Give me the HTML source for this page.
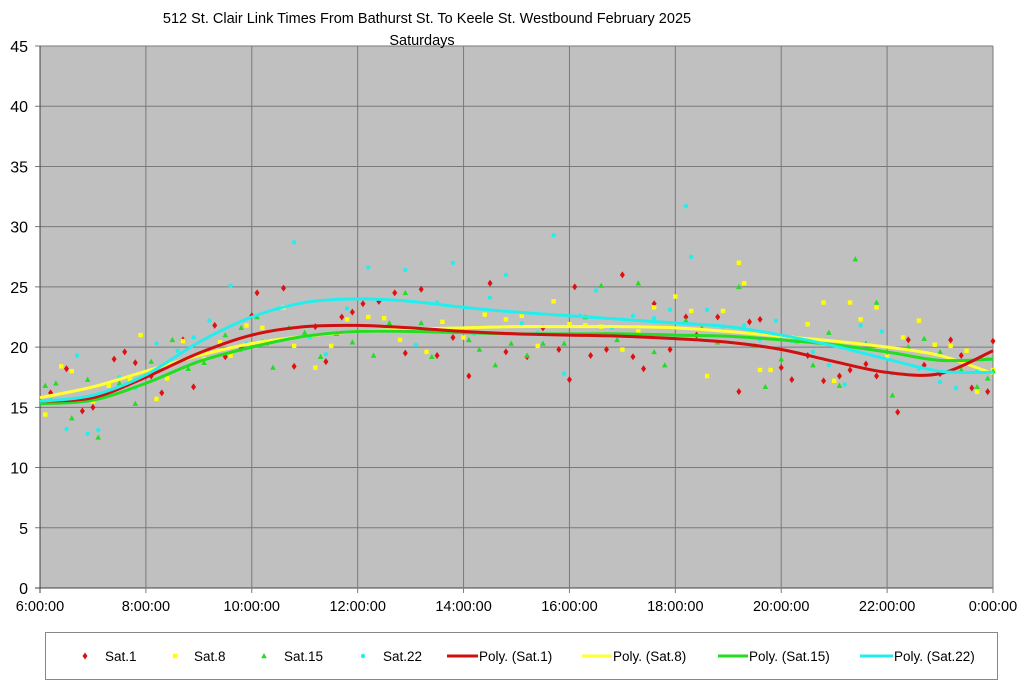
<!DOCTYPE html>
<html><head><meta charset="utf-8"><style>
body{margin:0;background:#fff;width:1024px;height:687px;overflow:hidden;font-family:"Liberation Sans",sans-serif}
svg text{font-family:"Liberation Sans",sans-serif}
</style></head><body>
<svg id="c" width="1024" height="687"></svg>
<script>
const xTicks=[6,8,10,12,14,16,18,20,22,24];
const xTickLabels=["6:00:00","8:00:00","10:00:00","12:00:00","14:00:00","16:00:00","18:00:00","20:00:00","22:00:00","0:00:00"];
const yTicks=[0,5,10,15,20,25,30,35,40,45];
const trendHours=[6,7,8,9,10,11,12,13,14,15,16,17,18,19,20,21,22,23,24];
const trendSat1=[15.5,15.8,17.5,19.5,21,21.7,21.8,21.6,21.3,21.1,21,20.9,20.7,20.4,19.8,18.8,17.9,17.8,19.7];
const trendSat8=[15.8,16.7,18,19.3,20.3,20.9,21.3,21.5,21.6,21.7,21.7,21.7,21.6,21.3,20.9,20.5,20,19.3,17.8];
const trendSat15=[15.3,15.6,17,18.8,20,20.9,21.3,21.3,21.2,21.1,21.1,21.1,21,20.9,20.6,20.2,19.6,18.9,19];
const trendSat22=[15.5,16,17.7,20.4,22.5,23.7,24,23.8,23.3,22.9,22.6,22.3,22,21.7,21,20.1,19,18,17.9];
const sat1=[[6.2,16.2],[6.5,18.2],[6.8,14.7],[7,15],[7.4,19],[7.6,19.6],[7.8,18.7],[8.1,17.6],[8.3,16.2],[8.7,20.6],[8.9,16.7],[9.3,21.8],[9.5,19.2],[9.8,19.9],[10,22.6],[10.1,24.5],[10.3,20.4],[10.6,24.9],[10.8,18.4],[11.2,21.7],[11.4,18.8],[11.7,22.5],[11.9,22.9],[12.1,23.6],[12.4,23.8],[12.7,24.5],[12.9,19.5],[13.2,24.8],[13.5,19.3],[13.8,20.8],[14.1,17.6],[14.5,25.3],[14.8,19.6],[15.2,19.2],[15.5,21.6],[15.8,19.8],[16,17.3],[16.1,25],[16.4,19.3],[16.7,19.8],[17,26],[17.2,19.2],[17.4,18.2],[17.6,23.6],[17.9,19.8],[18.2,22.5],[18.4,21],[18.8,22.5],[19.2,16.3],[19.4,22.1],[19.6,22.3],[20,18.3],[20.2,17.3],[20.5,19.3],[20.8,17.2],[21.1,17.6],[21.3,18.1],[21.6,18.6],[21.8,17.6],[22.2,14.6],[22.4,20.6],[22.7,18.5],[23,17.8],[23.2,20.6],[23.4,19.3],[23.6,16.6],[23.9,16.3],[24,20.5]];
const sat8=[[6.1,14.4],[6.4,18.4],[6.6,18],[7,15.5],[7.3,16.8],[7.7,17.3],[7.9,21],[8.2,15.7],[8.4,17.4],[8.7,20.5],[9.1,19],[9.4,20.4],[9.6,19.3],[9.9,21.8],[10.2,21.6],[10.6,23.3],[10.8,20.1],[11.2,18.3],[11.5,20.1],[11.8,22.3],[12.2,22.5],[12.5,22.4],[12.8,20.6],[13.3,19.6],[13.6,22.1],[14,20.8],[14.4,22.7],[14.8,22.3],[15.1,22.6],[15.4,20.1],[15.7,23.8],[16,21.9],[16.3,21.8],[16.6,21.7],[17,19.8],[17.3,21.3],[17.6,23.3],[18,24.2],[18.3,23],[18.6,17.6],[18.9,23],[19.2,27],[19.3,25.3],[19.6,18.1],[19.8,18.1],[20.2,20.8],[20.5,21.9],[20.8,23.7],[21,17.2],[21.3,23.7],[21.5,22.3],[21.8,23.3],[22,19.2],[22.3,20.8],[22.6,22.2],[22.9,20.2],[23.2,20.1],[23.5,19.7],[23.7,16.3],[24,18.1]];
const sat15=[[6.1,16.8],[6.3,17],[6.6,14.1],[6.9,17.3],[7.1,12.5],[7.5,17],[7.8,15.3],[8.1,18.8],[8.5,20.6],[8.8,18.2],[9.1,18.7],[9.5,21],[9.8,21.6],[10.1,22.5],[10.4,18.3],[10.7,21.6],[11,21.2],[11.3,19.2],[11.6,21.1],[11.9,20.4],[12.3,19.3],[12.6,22],[12.9,24.5],[13.2,22],[13.4,19.2],[13.8,21.3],[14.1,20.6],[14.3,19.8],[14.6,18.5],[14.9,20.3],[15.2,19.3],[15.5,20.3],[15.9,20.3],[16.3,22.5],[16.6,25.1],[16.9,20.6],[17.3,25.3],[17.6,19.6],[17.8,18.5],[18.2,22.2],[18.5,21.6],[18.8,20.4],[19.2,25],[19.5,20.1],[19.7,16.7],[20,19],[20.3,20.5],[20.6,18.5],[20.9,21.2],[21.1,16.8],[21.4,27.3],[21.6,20.3],[21.8,23.7],[22.1,16],[22.4,20],[22.7,20.7],[23,19.6],[23.4,18.1],[23.7,16.7],[23.9,17.4],[24,18]];
const sat22=[[6.2,15.6],[6.5,13.2],[6.7,19.3],[6.9,12.8],[7.1,13.1],[7.5,17.5],[7.8,16.6],[8.2,20.3],[8.6,19.7],[8.9,20.8],[9.2,22.2],[9.6,25.1],[9.9,20.3],[10.2,20.5],[10.5,23.2],[10.8,28.7],[11.1,20.8],[11.4,19.4],[11.8,23.2],[12.2,26.6],[12.5,21.4],[12.9,26.4],[13.1,20.2],[13.5,23.7],[13.8,27],[14.2,21.1],[14.5,24.1],[14.8,26],[15.1,22],[15.4,21.2],[15.7,29.3],[15.9,17.8],[16.2,22.6],[16.5,24.7],[16.8,21.6],[17.2,22.6],[17.6,22.4],[17.9,23.1],[18.2,31.7],[18.3,27.5],[18.6,23.1],[18.9,21.7],[19.3,21.8],[19.6,20.6],[19.9,22.2],[20.2,20.5],[20.6,19.6],[20.9,18.5],[21.2,16.9],[21.5,21.8],[21.9,21.3],[22.1,17.8],[22.6,18.2],[23,17.1],[23.3,16.6],[23.7,18],[23.9,19]];

const L=40,R=993,T=46,B=588;
const X=h=>L+(h-6)/18*(R-L);
const Y=v=>B-v/45*(B-T);
const svg=document.getElementById('c');
const NS='http://www.w3.org/2000/svg';
function mk(tag,attrs,parent){const e=document.createElementNS(NS,tag);for(const k in attrs)e.setAttribute(k,attrs[k]);(parent||svg).appendChild(e);return e;}

let e=mk('rect',{x:L,y:T,width:R-L,height:B-T,fill:'#c0c0c0'});


yTicks.forEach(v=>{
  const g=mk('line',{x1:L-5,x2:R,y1:Y(v),y2:Y(v),stroke:v===0?'#404040':'#7a7a7a','stroke-width':1});
  
  
  const t=mk('text',{x:28,y:Y(v)+6,'text-anchor':'end','font-size':16,fill:'#000'});
  t.textContent=v;
  
  
});
xTicks.forEach((h,i)=>{
  const g=mk('line',{x1:X(h),x2:X(h),y1:T,y2:B+5,stroke:i===0?'#404040':'#7a7a7a','stroke-width':1});
  
  
  const t=mk('text',{x:X(h),y:611,'text-anchor':'middle','font-size':14.5,fill:'#000'});
  t.textContent=xTickLabels[i];
  
  
});
let t1=mk('text',{x:427,y:23,'text-anchor':'middle','font-size':14.5});
t1.textContent='512 St. Clair Link Times From Bathurst St. To Keele St. Westbound February 2025';


let t2=mk('text',{x:422,y:45,'text-anchor':'middle','font-size':14.5});
t2.textContent='Saturdays';



function marker(shape,cx,cy,col,parent){
  if(shape==='d') return mk('polygon',{points:`${cx},${cy-3.5} ${cx+2.5},${cy} ${cx},${cy+3.5} ${cx-2.5},${cy}`,fill:col},parent);
  if(shape==='s') return mk('rect',{x:cx-2.2,y:cy-2.2,width:4.4,height:4.4,fill:col},parent);
  if(shape==='t') return mk('polygon',{points:`${cx},${cy-3} ${cx+2.8},${cy+2.2} ${cx-2.8},${cy+2.2}`,fill:col},parent);
  return mk('circle',{cx:cx,cy:cy,r:2.2,fill:col},parent);
}
const series=[[sat1,'#e01010','d','sat1'],[sat8,'#ffff00','s','sat8'],[sat15,'#22dd22','t','sat15'],[sat22,'#22eeee','c','sat22']];
series.forEach(([d,col,sh,nm])=>{
  const g=mk('g',{});
  
  
  d.forEach(p=>{const m=marker(sh,X(p[0]),Y(p[1]),col,g);
    
    });
});
function smooth(vals){
  const pts=trendHours.map((h,i)=>[X(h),Y(vals[i])]);
  let d=`M${pts[0][0]},${pts[0][1]}`;
  for(let i=0;i<pts.length-1;i++){
    const p0=pts[Math.max(0,i-1)],p1=pts[i],p2=pts[i+1],p3=pts[Math.min(pts.length-1,i+2)];
    d+=` C${p1[0]+(p2[0]-p0[0])/6},${p1[1]+(p2[1]-p0[1])/6} ${p2[0]-(p3[0]-p1[0])/6},${p2[1]-(p3[1]-p1[1])/6} ${p2[0]},${p2[1]}`;
  }
  return d;
}
[[trendSat8,'#ffff33','sat8'],[trendSat15,'#22dd22','sat15'],[trendSat1,'#d01010','sat1'],[trendSat22,'#22eeee','sat22']].forEach(([v,col,nm])=>{
  const p=mk('path',{d:smooth(v),fill:'none',stroke:col,'stroke-width':3});
  
  
});

const lg=mk('g',{});


mk('rect',{x:45.5,y:632.5,width:952,height:47,fill:'#fff',stroke:'#888'},lg);
const legItems=[['m','d','#e01010',85,104,'Sat.1'],['m','s','#ffff00',175,193,'Sat.8'],['m','t','#22dd22',264,283,'Sat.15'],['m','c','#22eeee',363,382,'Sat.22'],['l',0,'#d01010',447,478,'Poly. (Sat.1)'],['l',0,'#ffff33',582,612,'Poly. (Sat.8)'],['l',0,'#22dd22',718,748,'Poly. (Sat.15)'],['l',0,'#22eeee',860,893,'Poly. (Sat.22)']];
legItems.forEach(([k,sh,col,mx,tx,lab])=>{
  const g=mk('g',{},lg);
  
  
  if(k==='m') marker(sh,mx,656,col,g);
  else mk('line',{x1:mx,x2:tx,y1:656,y2:656,stroke:col,'stroke-width':3},g);
  const t=mk('text',{x:tx+1,y:661,'font-size':13.5},g);
  t.textContent=lab;
});
</script>
</body></html>
